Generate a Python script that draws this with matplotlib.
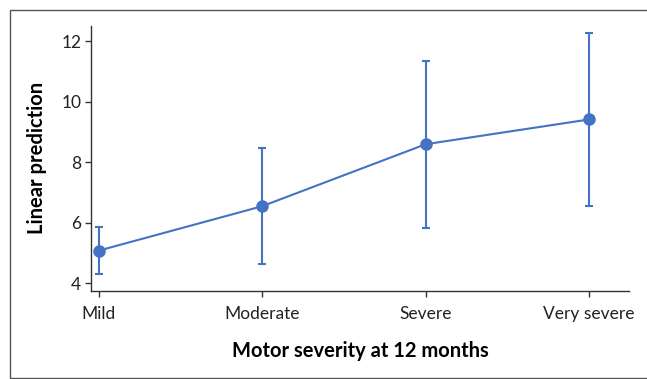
import matplotlib
matplotlib.use("Agg")
import matplotlib.pyplot as plt
from matplotlib.patches import Rectangle

# motor severity groups and predicted means with 95% CI
categories = ["Mild", "Moderate", "Severe", "Very severe"]
prediction = [5.08, 6.55, 8.60, 9.42]
ci_lower = [4.30, 4.63, 5.83, 6.56]
ci_upper = [5.87, 8.46, 11.35, 12.27]
yticks = [4, 6, 8, 10, 12]

plt.rcParams['font.family'] = ['Lato', 'DejaVu Sans']

fig = plt.figure(figsize=(6.47, 3.79), dpi=100)
fig.set_facecolor('white')

# frame around the whole figure
fig.patches.append(Rectangle((9.5 / 647, 1.5 / 379), 1.0, 368 / 379,
                             transform=fig.transFigure, fill=False,
                             edgecolor='#555555', linewidth=1.0))

ax = fig.add_axes([91 / 647, (379 - 290.7) / 379, (629.3 - 91) / 647, (290.7 - 26) / 379])

x = list(range(len(categories)))
yerr = [[p - lo for p, lo in zip(prediction, ci_lower)],
        [hi - p for p, hi in zip(prediction, ci_upper)]]
color = '#4472C4'
ax.errorbar(x, prediction, yerr=yerr, color=color, linewidth=1.5,
            marker='o', markersize=8, capsize=3, capthick=1.5, elinewidth=1.5)

ax.set_xlim(-0.047, 3.245)
ax.set_ylim(3.755, 12.51)
ax.set_xticks(x)
ax.set_xticklabels(categories)
ax.set_yticks(yticks)

for side in ['top', 'right']:
    ax.spines[side].set_visible(False)
for side in ['left', 'bottom']:
    ax.spines[side].set_color('#333333')
    ax.spines[side].set_linewidth(1.0)

ax.tick_params(axis='both', direction='out', length=4, width=1, color='#333333',
               labelsize=12.5, labelcolor='#222222')
ax.tick_params(axis='x', pad=7)
ax.tick_params(axis='y', pad=3)

ax.set_ylabel("Linear prediction", fontsize=14.5, fontweight='bold', labelpad=10)
ax.set_xlabel("Motor severity at 12 months", fontsize=14.5, fontweight='bold', labelpad=14)

fig.savefig("out.png", dpi=100)
